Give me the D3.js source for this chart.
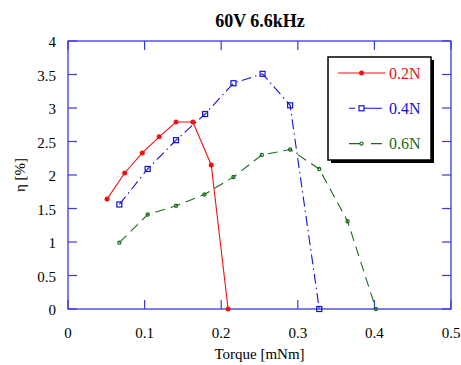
<!DOCTYPE html>
<html>
<head>
<meta charset="utf-8">
<script src="https://cdn.jsdelivr.net/npm/d3@7"></script>
<style>
body { margin:0; background:#fff; }
</style>
</head>
<body>
<svg id="chart" width="461" height="365" style="font-family:'Liberation Serif','Times New Roman',serif"></svg>
<script>
// data
var torque_02 = [0.051, 0.074, 0.097, 0.119, 0.141, 0.163, 0.187, 0.209];
var eta_02    = [1.64, 2.03, 2.33, 2.57, 2.79, 2.79, 2.15, 0];
var torque_04 = [0.067, 0.104, 0.141, 0.179, 0.216, 0.254, 0.290, 0.328];
var eta_04    = [1.56, 2.09, 2.52, 2.91, 3.37, 3.51, 3.04, 0];
var torque_06 = [0.067, 0.104, 0.141, 0.178, 0.216, 0.253, 0.290, 0.328, 0.365, 0.402];
var eta_06    = [0.99, 1.41, 1.54, 1.71, 1.97, 2.30, 2.38, 2.09, 1.31, 0];
var xTicks = [0, 0.1, 0.2, 0.3, 0.4, 0.5];
var yTicks = [0, 0.5, 1, 1.5, 2, 2.5, 3, 3.5, 4];

var series = [
  {name:"0.2N", xs:torque_02, ys:eta_02, color:"#ee1111", dash:null, legDash:null, marker:"dot"},
  {name:"0.4N", xs:torque_04, ys:eta_04, color:"#1111dd", dash:"10,4,1.5,4", legDash:"6,9,18", marker:"square"},
  {name:"0.6N", xs:torque_06, ys:eta_06, color:"#1a6b1a", dash:"10,6", legDash:"11,11,11", marker:"circle"}
];

var svg = d3.select("#chart");
var margin = {left:68, right:10, top:41, bottom:56};
var W = 461, H = 365;
var axisColor = "#3a3ade";

var x = d3.scaleLinear().domain([0,0.5]).range([margin.left, W - margin.right]);
var y = d3.scaleLinear().domain([0,4]).range([H - margin.bottom, margin.top]);

// title
svg.append("text")
   .attr("x", 260).attr("y", 27)
   .attr("text-anchor","middle")
   .style("font-weight","bold").style("font-size","18px")
   .text("60V 6.6kHz");

// plot frame
svg.append("rect")
   .attr("x", x(0)).attr("y", y(4))
   .attr("width", x(0.5)-x(0)).attr("height", y(0)-y(4))
   .attr("fill","none").attr("stroke",axisColor).attr("stroke-width",1.3);

// ticks on all four sides, pointing in
var tl = 9;
var axes = svg.append("g").attr("stroke",axisColor).attr("stroke-width",1.2);
xTicks.forEach(function(t){
  axes.append("line").attr("x1",x(t)).attr("x2",x(t)).attr("y1",y(0)).attr("y2",y(0)-tl);
  axes.append("line").attr("x1",x(t)).attr("x2",x(t)).attr("y1",y(4)).attr("y2",y(4)+tl);
});
yTicks.forEach(function(t){
  axes.append("line").attr("x1",x(0)).attr("x2",x(0)+tl).attr("y1",y(t)).attr("y2",y(t));
  axes.append("line").attr("x1",x(0.5)).attr("x2",x(0.5)-tl).attr("y1",y(t)).attr("y2",y(t));
});

// tick labels
svg.selectAll(".xt").data(xTicks).join("text")
   .attr("x", d => x(d)).attr("y", y(0)+29)
   .attr("text-anchor","middle").style("font-size","15px")
   .text(d => d3.format("")(d));
svg.selectAll(".yt").data(yTicks).join("text")
   .attr("x", x(0)-12).attr("y", d => y(d)+6)
   .attr("text-anchor","end").style("font-size","15px")
   .text(d => d3.format("")(d));

// axis labels
svg.append("text")
   .attr("x", (x(0)+x(0.5))/2).attr("y", 359)
   .attr("text-anchor","middle").style("font-size","15px")
   .text("Torque [mNm]");
svg.append("text")
   .attr("transform","translate(25," + ((y(0)+y(4))/2) + ") rotate(-90)")
   .attr("text-anchor","middle").style("font-size","15px")
   .text("η [%]");

// lines and markers
var line = d3.line().x(d => x(d[0])).y(d => y(d[1]));

function drawMarker(g, kind, cx, cy, color){
  if(kind=="dot"){
    g.append("circle").attr("cx",cx).attr("cy",cy).attr("r",2.5).attr("fill",color);
  } else if(kind=="square"){
    g.append("rect").attr("x",cx-2.5).attr("y",cy-2.5).attr("width",5).attr("height",5)
     .attr("fill","none").attr("stroke",color).attr("stroke-width",1.2);
  } else {
    g.append("circle").attr("cx",cx).attr("cy",cy).attr("r",1.6)
     .attr("fill","none").attr("stroke",color).attr("stroke-width",1.2);
  }
}

series.forEach(function(s){
  var pts = s.xs.map((v,i) => [v, s.ys[i]]);
  var g = svg.append("g");
  g.append("path").attr("d", line(pts))
   .attr("fill","none").attr("stroke",s.color).attr("stroke-width",1.1)
   .attr("stroke-dasharray", s.dash);
  pts.forEach(p => drawMarker(g, s.marker, x(p[0]), y(p[1]), s.color));
});

// legend
var lg = svg.append("g");
var lx = 328, ly = 57, lw = 103, lh = 103;
lg.append("rect").attr("x",lx+3).attr("y",ly+3).attr("width",lw).attr("height",lh).attr("fill","#000");
lg.append("rect").attr("x",lx).attr("y",ly).attr("width",lw).attr("height",lh)
  .attr("fill","#fff").attr("stroke","#000").attr("stroke-width",1.5);
series.forEach(function(s,i){
  var yy = 73 + i*35.3;
  var x1 = s.legDash ? 349 : 338, x2 = s.legDash ? 382 : 385;
  lg.append("line").attr("x1",x1).attr("x2",x2).attr("y1",yy).attr("y2",yy)
    .attr("stroke",s.color).attr("stroke-width",1.1)
    .attr("stroke-dasharray", s.legDash);
  drawMarker(lg, s.marker, 361.5, yy, s.color);
  lg.append("text").attr("x",389).attr("y",yy+5.5)
    .attr("fill",s.color).style("font-size","16px").text(s.name);
});
</script>
</body>
</html>
